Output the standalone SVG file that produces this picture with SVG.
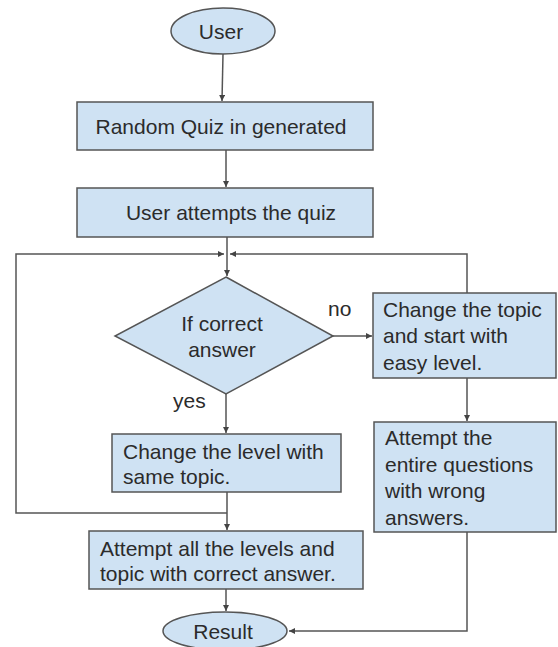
<svg xmlns="http://www.w3.org/2000/svg" width="558" height="647" viewBox="0 0 558 647">
<defs>
<marker id="ah" markerWidth="8" markerHeight="8" refX="6" refY="3" orient="auto" markerUnits="userSpaceOnUse">
<path d="M0,0 L6,3 L0,6 Z" fill="#444"/>
</marker>
<style>
.n{fill:#cfe2f3;stroke:#555;stroke-width:1.5}
.t{font-family:"Liberation Sans",Arial,sans-serif;font-size:21px;fill:#2b2b2b}
.c{text-anchor:middle}
.e{fill:none;stroke:#555;stroke-width:1.5}
</style>
</defs>
<rect width="558" height="647" fill="#ffffff"/>
<g id="connectors">
<path class="e" d="M223,54 L222,101" marker-end="url(#ah)"/>
<path class="e" d="M226,150 L226,187" marker-end="url(#ah)"/>
<path class="e" d="M227,237 L227,276" marker-end="url(#ah)"/>
<path class="e" d="M227,513 L16,513 L16,254 L224,254" marker-end="url(#ah)"/>
<path class="e" d="M467,293 L467,254 L230,254" marker-end="url(#ah)"/>
<path class="e" d="M333,336 L372,336" marker-end="url(#ah)"/>
<path class="e" d="M226,394 L226,433" marker-end="url(#ah)"/>
<path class="e" d="M227,492 L227,530" marker-end="url(#ah)"/>
<path class="e" d="M226,589 L226,611" marker-end="url(#ah)"/>
<path class="e" d="M467,378 L467,421" marker-end="url(#ah)"/>
<path class="e" d="M467,532 L467,631 L289,631" marker-end="url(#ah)"/>
</g>
<g id="user">
<ellipse class="n" cx="223" cy="31" rx="52" ry="23"/>
<text class="t c" x="221" y="39">User</text>
</g>
<g id="random-quiz">
<rect class="n" x="77" y="102" width="296" height="48"/>
<text class="t c" x="221" y="134">Random Quiz in generated</text>
</g>
<g id="attempts-quiz">
<rect class="n" x="77" y="188" width="296" height="49"/>
<text class="t c" x="231" y="220">User attempts the quiz</text>
</g>
<g id="decision">
<polygon class="n" points="226,277 333,336 226,394 115,336"/>
<text class="t c" x="222" y="331">If correct</text>
<text class="t c" x="222" y="357">answer</text>
</g>
<g id="label-no"><text class="t" x="328" y="316">no</text></g>
<g id="label-yes"><text class="t" x="173" y="408">yes</text></g>
<g id="change-topic">
<rect class="n" x="373" y="293" width="183" height="85"/>
<text class="t" x="383" y="317">Change the topic</text>
<text class="t" x="383" y="343">and start with</text>
<text class="t" x="383" y="370">easy level.</text>
</g>
<g id="attempt-wrong">
<rect class="n" x="374" y="422" width="182" height="110"/>
<text class="t" x="385" y="445">Attempt the</text>
<text class="t" x="385" y="472">entire questions</text>
<text class="t" x="385" y="498">with wrong</text>
<text class="t" x="385" y="525">answers.</text>
</g>
<g id="change-level">
<rect class="n" x="112" y="434" width="229" height="58"/>
<text class="t" x="123" y="459">Change the level with</text>
<text class="t" x="123" y="484">same topic.</text>
</g>
<g id="attempt-all">
<rect class="n" x="89" y="531" width="274" height="58"/>
<text class="t" x="100" y="556">Attempt all the levels and</text>
<text class="t" x="100" y="581">topic with correct answer.</text>
</g>
<g id="result">
<ellipse class="n" cx="225" cy="631" rx="62" ry="19"/>
<text class="t c" x="223" y="639">Result</text>
</g>
</svg>
